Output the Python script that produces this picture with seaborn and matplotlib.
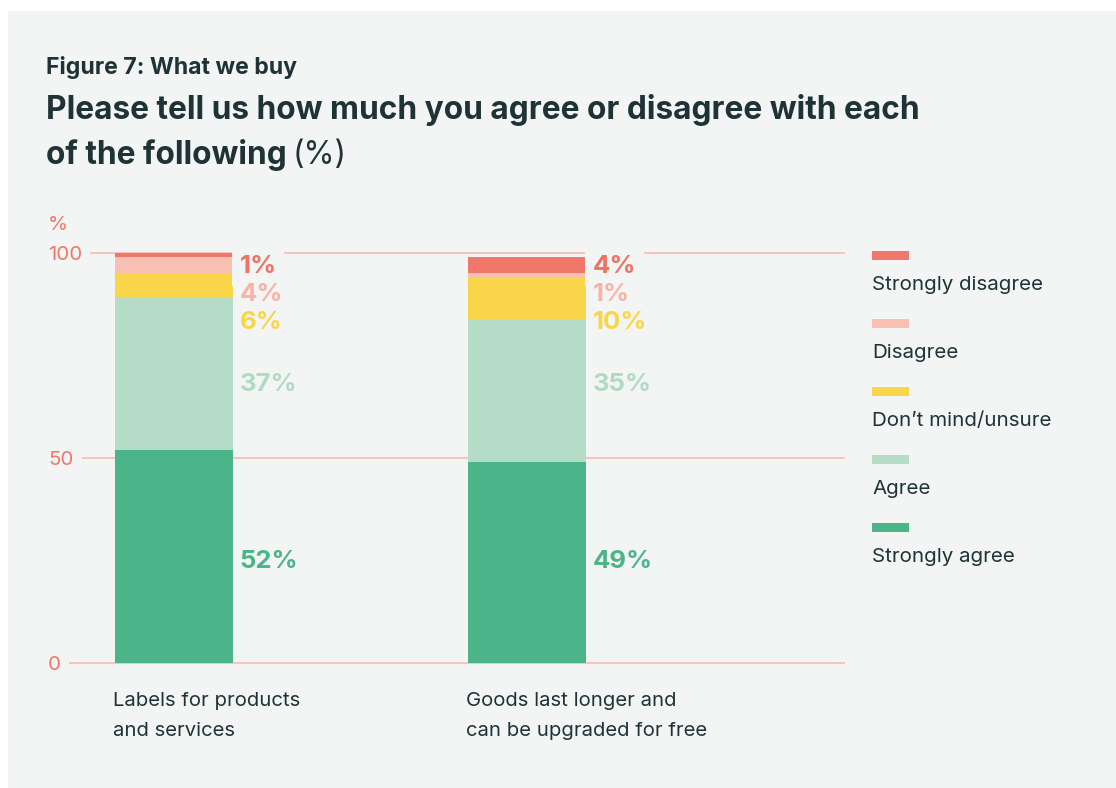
import matplotlib
matplotlib.use("Agg")
import matplotlib.pyplot as plt
from matplotlib import transforms
from matplotlib.patches import Rectangle
import seaborn as sns
import pandas as pd
import numpy as np

# ---- data -------------------------------------------------------------
categories = ["Labels for products\nand services",
              "Goods last longer and\ncan be upgraded for free"]
responses = ["Strongly agree", "Agree", "Don’t mind/unsure",
             "Disagree", "Strongly disagree"]
strongly_agree = [52, 49]
agree = [37, 35]
dont_mind = [6, 10]
disagree = [4, 1]
strongly_disagree = [1, 4]
y_ticks = [0, 50, 100]

# ---- styling ----------------------------------------------------------
palette = ["#4bb589", "#b4dcc6", "#f9d649", "#f8bfb3", "#f07769"]
label_colors = ["#4bb589", "#b0dac3", "#f9d649", "#f7b3a5", "#ef7262"]
PANEL = "#f3f5f4"
INK = "#1f3337"
AXIS = "#f07769"
GRID = "#f6b8ab"

W, H, DPI = 1116, 788, 100

sns.set_theme(style="white")
plt.rcParams["font.family"] = ["Inter", "DejaVu Sans"]

fig = plt.figure(figsize=(W / DPI, H / DPI), dpi=DPI, facecolor="white")


def fx(px):
    return px / W


def fy(py):
    return 1 - py / H


def shift(dx, dy):
    """Offset in pixels (dy positive = downwards)."""
    return transforms.ScaledTranslation(dx / DPI, -dy / DPI, fig.dpi_scale_trans)


# light panel behind everything
fig.add_artist(Rectangle((fx(8), 0), 1 - fx(8), fy(11), transform=fig.transFigure,
                         facecolor=PANEL, edgecolor="none", zorder=-10))

# ---- axes -------------------------------------------------------------
y0_px, y100_px = 663, 253
ppu = (y0_px - y100_px) / 100
ylo, yhi = -0.6, 100.6
ax_bottom_px = y0_px + (0 - ylo) * ppu
ax_top_px = y100_px - (yhi - 100) * ppu
ax = fig.add_axes([fx(61), fy(ax_bottom_px), fx(845) - fx(61),
                   (ax_bottom_px - ax_top_px) / H])
ax.set_facecolor("none")

df = pd.DataFrame({"category": categories})
for name, vals in zip(responses, [strongly_agree, agree, dont_mind,
                                  disagree, strongly_disagree]):
    df[name] = vals
cum = df[responses].cumsum(axis=1)
cum.insert(0, "category", df["category"])

bar_width = 0.334
# stacked bars: draw running totals from the top segment down
for name, color in reversed(list(zip(responses, palette))):
    sns.barplot(data=cum, x="category", y=name, order=categories, color=color,
                saturation=1, width=bar_width, errorbar=None, linewidth=0,
                zorder=2, ax=ax)

ax.set_xlim(-0.32, 1.90)
ax.set_ylim(ylo, yhi)
ax.set_xlabel("")
ax.set_ylabel("")
ax.set_xticks([])
for s in ax.spines.values():
    s.set_visible(False)

ax.set_yticks(y_ticks, labels=[str(t) for t in y_ticks])
ax.yaxis.grid(True, color=GRID, linewidth=1.1)
ax.set_axisbelow(True)
ax.tick_params(axis="y", length=0, pad=13 * 72 / DPI, labelsize=14.8,
               labelcolor=AXIS)
for lab in ax.get_yticklabels():
    lab.set_horizontalalignment("left")
    lab.set_bbox(dict(facecolor=PANEL, edgecolor="none",
                      boxstyle="square,pad=0.4"))

fig.text(fx(48), fy(225), "%", color=AXIS, fontsize=14.8, va="center")

# category labels under the bars
xt = transforms.blended_transform_factory(ax.transData, fig.transFigure)
for i, cat in enumerate(categories):
    ax.text(i - bar_width / 2, fy(736), cat, transform=xt + shift(-2, 0),
            ha="left", va="baseline", fontsize=14.6, color=INK,
            linespacing=1.83, clip_on=False)

# ---- value labels -----------------------------------------------------
vals = df[responses].to_numpy()
cum_vals = cum[responses].to_numpy()
label_kw = dict(fontsize=18.5, fontweight="bold", ha="left",
                va="center_baseline", annotation_clip=False)
small = ["Strongly disagree", "Disagree", "Don’t mind/unsure"]
for i in range(len(categories)):
    x_edge = i + bar_width / 2
    for k, name in enumerate(responses):
        v = vals[i, k]
        color = label_colors[k]
        if name in small:
            row = small.index(name)
            # the top label sits on the 100 line, so it masks the line behind it;
            # it is drawn underneath the other labels so its box never hides them
            box = (dict(facecolor=PANEL, edgecolor="none",
                        boxstyle="square,pad=0.3") if row == 0 else None)
            ax.annotate(f"{v}%", xy=(x_edge, 100), xycoords="data",
                        xytext=(6.5 * 0.72, -(11 + 28 * row) * 0.72),
                        textcoords="offset points", color=color, bbox=box,
                        zorder=3 if row == 0 else 4, **label_kw)
        else:
            centres = cum_vals[:, k] - vals[:, k] / 2
            ax.annotate(f"{v}%", xy=(x_edge, centres.mean()), xycoords="data",
                        xytext=(6.5 * 0.72, 0), textcoords="offset points",
                        color=color, zorder=4, **label_kw)

# ---- legend -----------------------------------------------------------
for k, (name, color) in enumerate(reversed(list(zip(responses, palette)))):
    top = 251 + 68 * k
    fig.add_artist(Rectangle((fx(872), fy(top + 9)), fx(909) - fx(872), 9 / H,
                             transform=fig.transFigure, facecolor=color,
                             edgecolor="none"))
    fig.text(fx(872), fy(top + 39), name, fontsize=14.8, color=INK,
             va="baseline", ha="left")

# ---- titles -----------------------------------------------------------
fig.text(fx(46), fy(74), "Figure 7: What we buy", fontsize=16.6,
         fontweight="bold", color=INK, va="baseline")
fig.text(fx(46), fy(119),
         "Please tell us how much you agree or disagree with each",
         fontsize=22.8, fontweight="bold", color=INK, va="baseline")
t2 = fig.text(fx(46), fy(164), "of the following", fontsize=22.8,
              fontweight="bold", color=INK, va="baseline")
ax.annotate("(%)", xy=(1, fy(164)), xycoords=(t2, "figure fraction"),
            xytext=(6 * 0.72, 0), textcoords="offset points",
            fontsize=22.8, color=INK, va="baseline", ha="left",
            annotation_clip=False)

fig.savefig("out.png", dpi=DPI, facecolor="white")
